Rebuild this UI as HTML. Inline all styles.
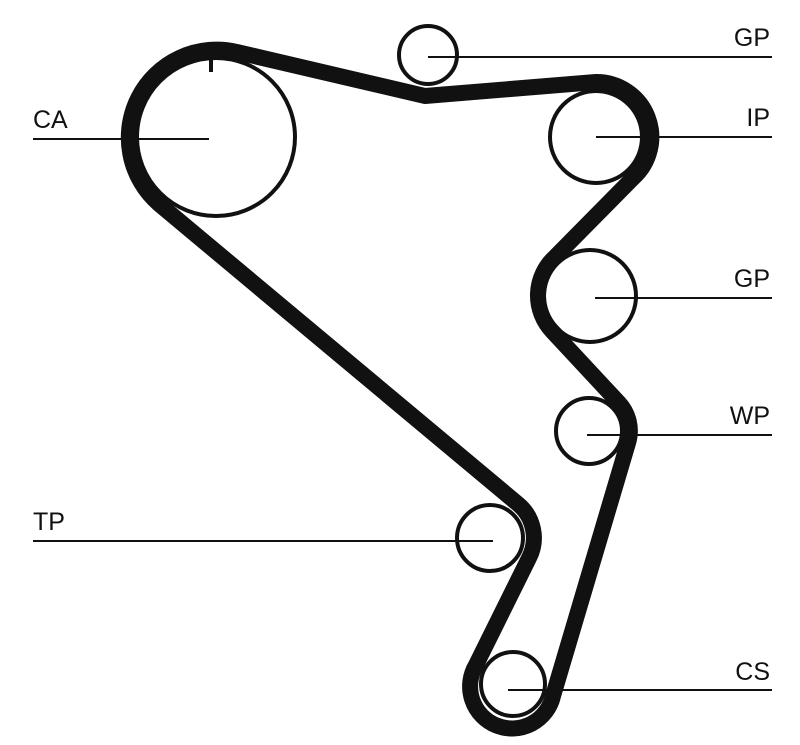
<!DOCTYPE html>
<html><head><meta charset="utf-8"><style>
html,body{margin:0;padding:0;background:#fff;}
svg{display:block;}
text{font-family:"Liberation Sans",sans-serif;font-size:25px;fill:#111;}
</style></head><body>
<svg width="800" height="745" viewBox="0 0 800 745" xmlns="http://www.w3.org/2000/svg">
<g fill="none" stroke="#111">
<circle cx="216" cy="137" r="79" stroke-width="4"/>
<line x1="211" y1="55" x2="211" y2="72" stroke-width="4"/>
<circle cx="428" cy="55" r="29" stroke-width="4"/>
<circle cx="596" cy="137" r="46" stroke-width="4"/>
<circle cx="590" cy="296" r="46" stroke-width="4"/>
<circle cx="589" cy="431" r="33" stroke-width="4"/>
<circle cx="490" cy="538" r="33" stroke-width="4"/>
<circle cx="513" cy="684" r="32" stroke-width="4"/>
<path d="M237,52 L425,96 L596,82 A55 55 0 0 1 633,178 L555,257 A52 52 0 0 0 552,331 L619,403 A41 41 0 0 1 628,443 L553,696 A42 42 0 1 1 476,665 L529,558 A44 44 0 0 0 518,504 L159,204 A88 88 0 0 1 237,52 Z" stroke-width="16" stroke-linejoin="round"/>
<g stroke-width="2">
<line x1="33" y1="139" x2="209" y2="139"/>
<line x1="428" y1="57" x2="772" y2="57"/>
<line x1="596" y1="137" x2="772" y2="137"/>
<line x1="595" y1="298" x2="772" y2="298"/>
<line x1="587" y1="435" x2="772" y2="435"/>
<line x1="33" y1="541" x2="493" y2="541"/>
<line x1="508" y1="690" x2="772" y2="690"/>
</g>
</g>
<text x="33" y="128">CA</text>
<text x="770" y="46" text-anchor="end">GP</text>
<text x="770" y="126" text-anchor="end">IP</text>
<text x="770" y="287" text-anchor="end">GP</text>
<text x="770" y="424" text-anchor="end">WP</text>
<text x="33" y="530">TP</text>
<text x="770" y="680" text-anchor="end">CS</text>
</svg>
</body></html>
